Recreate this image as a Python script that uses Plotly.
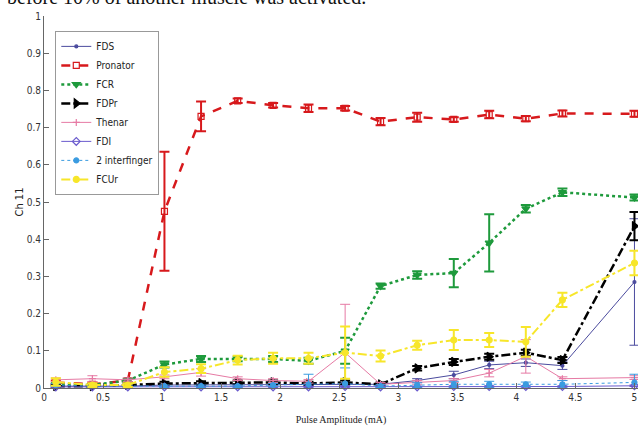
import plotly.graph_objects as go

# Pulse amplitude steps (mA)
amplitude = [0.1, 0.41, 0.71, 1.02, 1.33, 1.64, 1.94, 2.24, 2.55, 2.85,
             3.16, 3.47, 3.77, 4.08, 4.39, 5.0]

fds = [0.005, 0.005, 0.005, 0.008, 0.008, 0.008, 0.008, 0.008, 0.01, 0.01,
       0.02, 0.035, 0.062, 0.068, 0.06, 0.285]
fds_err = [0.003, 0.003, 0.003, 0.003, 0.003, 0.003, 0.003, 0.003, 0.005, 0.003,
           0.005, 0.01, 0.01, 0.01, 0.01, 0.17]

pronator = [0.015, 0.01, 0.02, 0.475, 0.73, 0.772, 0.76, 0.752, 0.752, 0.716,
            0.728, 0.722, 0.735, 0.724, 0.738, 0.737]
pronator_err = [0.005, 0.005, 0.005, 0.16, 0.04, 0.006, 0.006, 0.01, 0.006, 0.01,
                0.012, 0.006, 0.01, 0.007, 0.008, 0.008]

fcr = [0.01, 0.008, 0.02, 0.063, 0.078, 0.078, 0.078, 0.073, 0.1, 0.274,
       0.304, 0.309, 0.39, 0.482, 0.526, 0.512]
fcr_err = [0.003, 0.003, 0.005, 0.008, 0.008, 0.006, 0.008, 0.008, 0.035, 0.007,
           0.01, 0.038, 0.077, 0.01, 0.01, 0.008]

fdpr = [0.005, 0.005, 0.008, 0.012, 0.013, 0.015, 0.015, 0.012, 0.015, 0.01,
        0.053, 0.07, 0.084, 0.095, 0.075, 0.435]
fdpr_err = [0.004, 0.004, 0.004, 0.005, 0.005, 0.005, 0.005, 0.005, 0.005, 0.005,
            0.006, 0.008, 0.008, 0.008, 0.008, 0.038]

thenar = [0.022, 0.025, 0.022, 0.03, 0.042, 0.025, 0.02, 0.018, 0.095, 0.01,
          0.015, 0.02, 0.04, 0.085, 0.025, 0.028]
thenar_err = [0.005, 0.008, 0.005, 0.005, 0.01, 0.005, 0.005, 0.005, 0.13, 0.005,
              0.005, 0.005, 0.01, 0.045, 0.005, 0.005]

fdi = [0.003, 0.003, 0.003, 0.003, 0.003, 0.003, 0.003, 0.003, 0.004, 0.003,
       0.003, 0.004, 0.004, 0.004, 0.004, 0.006]
fdi_err = [0.002] * 16

interfinger = [0.008, 0.005, 0.005, 0.005, 0.005, 0.005, 0.008, 0.01, 0.012, 0.005,
               0.008, 0.01, 0.01, 0.01, 0.01, 0.015]
interfinger_err = [0.004, 0.003, 0.003, 0.003, 0.003, 0.003, 0.004, 0.027, 0.042, 0.004,
                   0.006, 0.008, 0.008, 0.006, 0.01, 0.022]

fcur = [0.016, 0.008, 0.008, 0.043, 0.052, 0.075, 0.08, 0.08, 0.095, 0.086,
        0.115, 0.129, 0.129, 0.124, 0.237, 0.336]
fcur_err = [0.01, 0.005, 0.005, 0.013, 0.012, 0.012, 0.015, 0.015, 0.07, 0.015,
            0.012, 0.027, 0.019, 0.04, 0.019, 0.033]

y_ticks = [0, 0.1, 0.2, 0.3, 0.4, 0.5, 0.6, 0.7, 0.8, 0.9, 1]
y_tick_labels = ["0", "0.1", "0.2", "0.3", "0.4", "0.5", "0.6", "0.7", "0.8", "0.9", "1"]
x_ticks = [0, 0.5, 1, 1.5, 2, 2.5, 3, 3.5, 4, 4.5, 5]
x_tick_labels = ["0", "0.5", "1", "1.5", "2", "2.5", "3", "3.5", "4", "4.5", "5"]

series = [
    # name, values, errors, colour, dash, width, symbol, marker size, error thickness
    ("FDS", fds, fds_err, "#4b4b9e", "solid", 1, "circle", 3, 1),
    ("Pronator", pronator, pronator_err, "#d7191c", "dash", 2.5, "square-open", 6, 2),
    ("FCR", fcr, fcr_err, "#1e9a3c", "dot", 2.5, "triangle-down", 7, 2),
    ("FDPr", fdpr, fdpr_err, "#000000", "dashdot", 2.5, "triangle-right", 8, 2),
    ("Thenar", thenar, thenar_err, "#e67aa4", "solid", 1, "cross-thin-open", 5, 1),
    ("FDI", fdi, fdi_err, "#6a5acd", "solid", 1, "diamond-open", 6, 1),
    ("2 interfinger", interfinger, interfinger_err, "#3a9be0", "dot", 1, "circle", 5, 1),
    ("FCUr", fcur, fcur_err, "#f7e62a", "dashdot", 2, "circle", 6, 2),
]

fig = go.Figure()
for name, vals, errs, color, dash, width, symbol, msize, ethick in series:
    fig.add_trace(go.Scatter(
        x=amplitude, y=vals, name=name, mode="lines+markers",
        line=dict(color=color, dash=dash, width=width),
        marker=dict(symbol=symbol, size=msize, color=color,
                    line=dict(color=color, width=1.2)),
        error_y=dict(type="data", array=errs, visible=True,
                     color=color, thickness=ethick, width=5),
        cliponaxis=False,
    ))

narrow = "DejaVu Sans Condensed, Liberation Sans Narrow, Roboto, sans-serif"
axis_font = dict(family=narrow, size=10, color="#333333")

fig.update_layout(
    width=638, height=428,
    margin=dict(l=44, r=0, t=16, b=40),
    paper_bgcolor="white", plot_bgcolor="white",
    showlegend=True,
    legend=dict(
        x=0.019, y=0.96, xanchor="left", yanchor="top",
        bgcolor="white", bordercolor="#999999", borderwidth=1,
        font=dict(family=narrow, size=10, color="#222222"),
        itemwidth=30, tracegroupgap=0,
    ),
    xaxis=dict(
        range=[0, 5.03], tickvals=x_ticks, ticktext=x_tick_labels,
        showgrid=False, zeroline=False, showline=True, linecolor="#666666", linewidth=1,
        ticks="inside", ticklen=5, tickcolor="#666666", tickfont=axis_font,
        title=dict(text="Pulse Amplitude (mA)",
                   font=dict(family="Liberation Serif, serif", size=10, color="#222222"),
                   standoff=13),
    ),
    yaxis=dict(
        range=[0, 1], tickvals=y_ticks, ticktext=y_tick_labels,
        showgrid=False, zeroline=False, showline=True, linecolor="#666666", linewidth=1,
        ticks="inside", ticklen=5, tickcolor="#666666", tickfont=axis_font,
        title=dict(text="Ch 11",
                   font=dict(family=narrow, size=11, color="#222222"),
                   standoff=0),
    ),
    annotations=[dict(
        text="before 10% of another muscle was activated.",
        xref="paper", yref="paper", x=-0.066, y=1.05,
        xanchor="left", yanchor="middle", showarrow=False,
        font=dict(family="Liberation Serif, Times New Roman, serif", size=20, color="#111111"),
    )],
)

fig.write_html("out.html")
